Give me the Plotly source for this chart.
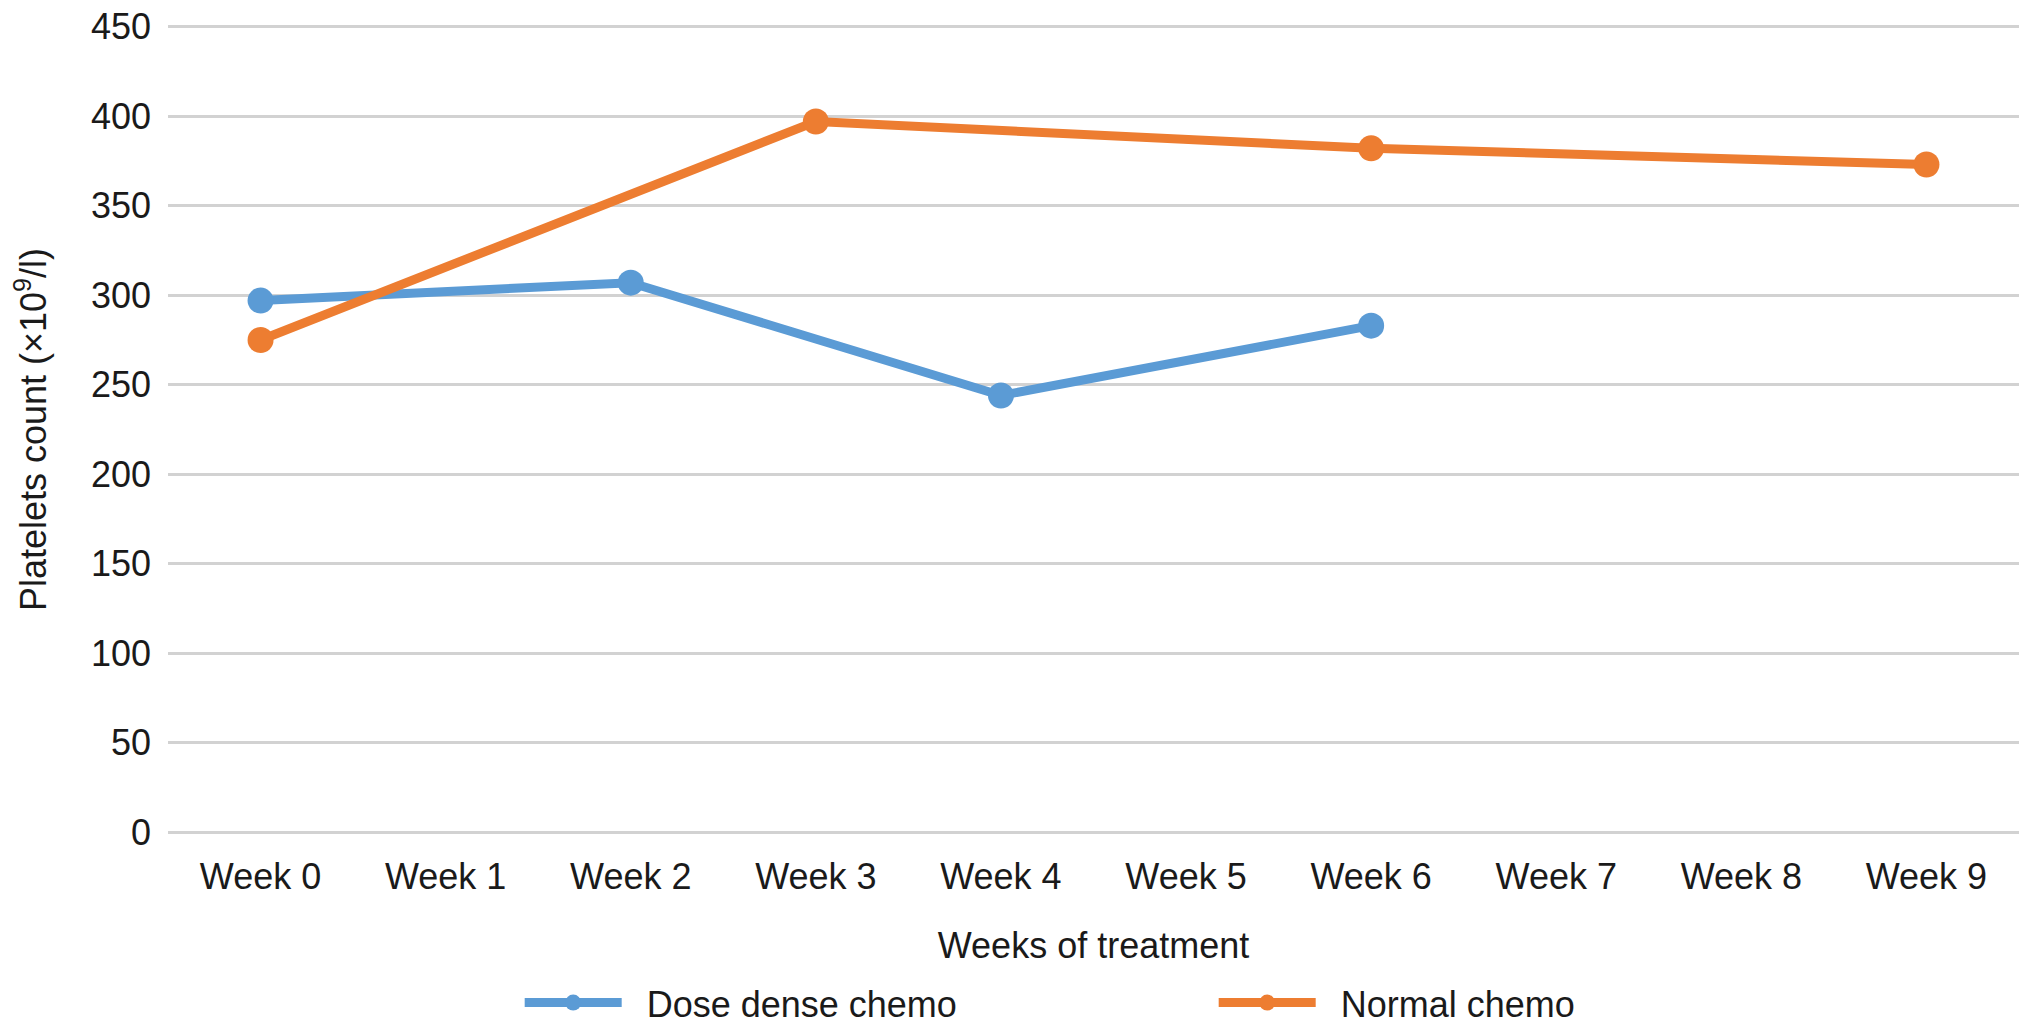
import plotly.graph_objects as go

weeks = ["Week 0", "Week 1", "Week 2", "Week 3", "Week 4", "Week 5", "Week 6", "Week 7", "Week 8", "Week 9"]
dose_dense_weeks = ["Week 0", "Week 2", "Week 4", "Week 6"]
dose_dense_values = [297, 307, 244, 283]
normal_weeks = ["Week 0", "Week 3", "Week 6", "Week 9"]
normal_values = [275, 397, 382, 373]
y_ticks = [0, 50, 100, 150, 200, 250, 300, 350, 400, 450]

FONT = "Liberation Sans, Arial, Helvetica, sans-serif"
BLUE = "#5B9BD5"
ORANGE = "#ED7D31"

fig = go.Figure()
fig.add_trace(go.Scatter(
    x=dose_dense_weeks, y=dose_dense_values, name="\u00a0\u00a0Dose dense chemo",
    mode="lines+markers",
    line=dict(color=BLUE, width=9),
    marker=dict(color=BLUE, size=26),
))
fig.add_trace(go.Scatter(
    x=normal_weeks, y=normal_values, name="\u00a0\u00a0Normal chemo",
    mode="lines+markers",
    line=dict(color=ORANGE, width=9),
    marker=dict(color=ORANGE, size=26),
))

fig.update_layout(
    width=2032, height=1029,
    margin=dict(l=160, r=21, t=15, b=201, autoexpand=False),
    plot_bgcolor="white", paper_bgcolor="white",
    font=dict(family=FONT, size=36, color="#1A1A1A"),
    xaxis=dict(
        type="category", categoryorder="array", categoryarray=weeks,
        range=[-0.5, 9.5], showgrid=False, zeroline=False, showline=False,
        ticks="", tickfont=dict(size=36), ticklabelstandoff=16,
        title=dict(text="Weeks of treatment", font=dict(size=36), standoff=36),
    ),
    yaxis=dict(
        range=[-2, 452], tickvals=y_ticks, showgrid=True, gridcolor="#D2D2D2", gridwidth=3,
        zeroline=False, showline=False, ticks="", ticklabelstandoff=16,
        ticklabeloverflow="allow",
        tickfont=dict(size=36),
        title=dict(text="Platelets count (×10<sup>9</sup>/l)", font=dict(size=36), standoff=40),
    ),
    legend=dict(
        orientation="h", x=0.190, xanchor="left", y=-0.205, yanchor="middle",
        itemwidth=97, entrywidth=582, entrywidthmode="pixels",
        font=dict(size=36),
    ),
    showlegend=True,
)

fig.write_html("out.html")
